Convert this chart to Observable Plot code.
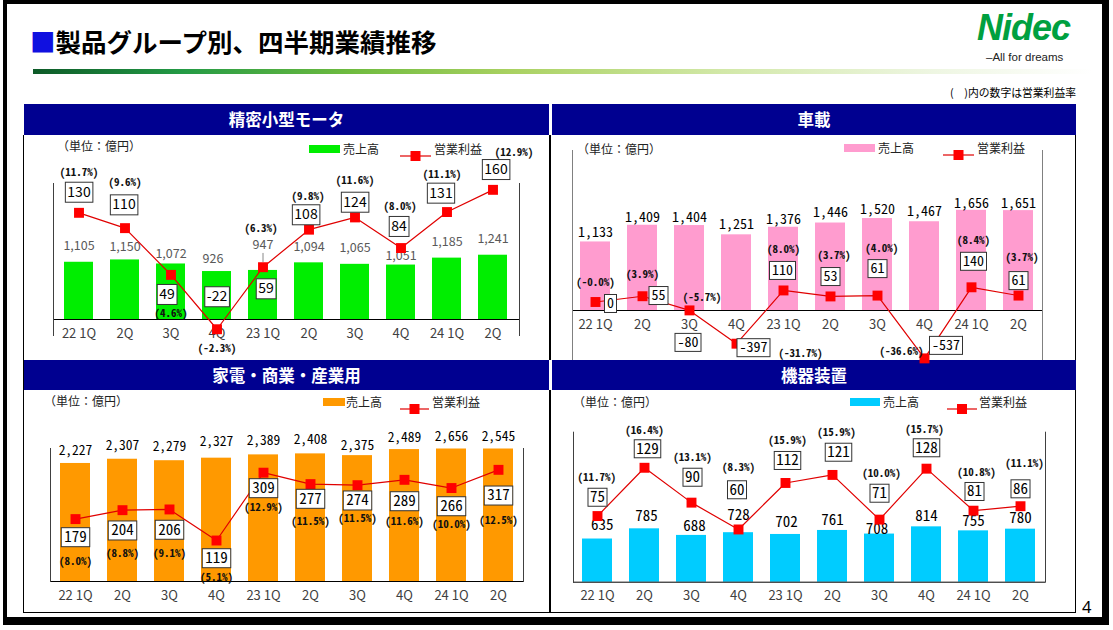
<!DOCTYPE html>
<html><head><meta charset="utf-8">
<script src="https://cdn.jsdelivr.net/npm/d3@7"></script>
<script src="https://cdn.jsdelivr.net/npm/@observablehq/plot@0.6"></script>
<style>
html,body{margin:0;padding:0;background:#fff;overflow:hidden;}
#page{position:relative;width:1113px;height:630px;overflow:hidden;font-family:"Noto Sans CJK JP","Noto Sans",sans-serif;color:#000;}
#page div{position:absolute;white-space:nowrap;}
</style></head>
<body><div id="page"></div>
<script>
// ---------- DATA ----------
const periods = ["22 1Q","22 2Q","22 3Q","22 4Q","23 1Q","23 2Q","23 3Q","23 4Q","24 1Q","24 2Q"];
const tickLabels = ["22 1Q","2Q","3Q","4Q","23 1Q","2Q","3Q","4Q","24 1Q","2Q"];
const segmentNames = ["精密小型モータ","車載","家電・商業・産業用","機器装置"];
const seriesNames = ["売上高","営業利益"];

const precisionSales  = [1105,1150,1072,926,947,1094,1065,1051,1185,1241];
const precisionProfit = [130,110,49,-22,59,108,124,84,131,160];
const precisionMargin = [11.7,9.6,4.6,-2.3,6.3,9.8,11.6,8.0,11.1,12.9];

const autoSales  = [1133,1409,1404,1251,1376,1446,1520,1467,1656,1651];
const autoProfit = [0,55,-80,-397,110,53,61,-537,140,61];
const autoMargin = [-0.0,3.9,-5.7,-31.7,8.0,3.7,4.0,-36.6,8.4,3.7];

const applianceSales  = [2227,2307,2279,2327,2389,2408,2375,2489,2656,2545];
const applianceProfit = [179,204,206,119,309,277,274,289,266,317];
const applianceMargin = [8.0,8.8,9.1,5.1,12.9,11.5,11.5,11.6,10.0,12.5];

const machinerySales  = [635,785,688,728,702,761,708,814,755,780];
const machineryProfit = [75,129,90,60,112,121,71,128,81,86];
const machineryMargin = [11.7,16.4,13.1,8.3,15.9,15.9,10.0,15.7,10.8,11.1];

// ---------- STYLE / LAYOUT ----------
const prop = '"Noto Sans CJK JP","Noto Sans",sans-serif';
const mono = '"Noto Sans Mono CJK JP","Noto Sans CJK JP",monospace';
const BOX_TEXT = "#010101";   // marker colour used to find the boxed labels
const fmtNum = d3.format(",");
const fmtPct = v => "(" + ((v < 0 || Object.is(v, -0)) ? "-" : "") + Math.abs(v).toFixed(1) + "%)";

const panels = [
  {name: segmentNames[0], sales: precisionSales, profit: precisionProfit, margin: precisionMargin, color: "#00ee00",
   header: [24,104,525,31], svg: [24,136,525,223], mL: 29, mR: 30,
   barZero: 183, barK: 0.0518, barMax: 2500, clamp: false,
   lineZero: 175.9, lineK: 0.766, lineDomain: [-40,200], frameTop: 47, frameBottom: 199, frameColor: "#404040",
   valFont: prop, valSize: 12.5, valColor: "#595959",
   valOff: [[0,-16],[0,-13],[0,-10],[-4,-13],[0,-25],[0,-16],[0,-16],[0,-9],[0,-16],[0,-16]],
   boxFont: prop, boxSize: 14, boxH: 20, boxPad: 2,
   boxOff: [[0,-20.6],[-1,-23.3],[-4,19.6],[0,-32.5],[3,21.6],[-3,-14.9],[0,-15.2],[-2,-21.6],[-6,-18.9],[3,-20.3]],
   pctOff: [[0,-40.6],[0,-45.9],[0,38.3],[0,19.5],[-2,-38.5],[-1,-33.5],[0,-36.5],[-1,-41.5],[-5,-37.5],[21,-37.5]],
   leader: {i: 4, top: -17, bottom: 8},
   legend: {y: 149, unit: [57,146], sw: [309,31], t1: 343, ln: [400,31], t2: 434}},
  {name: segmentNames[1], sales: autoSales, profit: autoProfit, margin: autoMargin, color: "#ff9ccf",
   header: [552,104,524,31], svg: [552,136,524,223], mL: 20, mR: 34,
   barZero: 174, barK: 0.0605, barMax: 2500, clamp: false,
   lineZero: 165.5, lineK: 0.105, lineDomain: [-600,200], frameTop: 14, frameBottom: 223, frameColor: "#808080",
   valFont: mono, valSize: 14, valColor: "#000",
   valOff: [[0,-9.8],[0,-7.5],[0,-7.8],[0,-10.3],[0,-7.7],[0,-10.8],[0,-8.7],[0,-10.5],[0,-6.5],[0,-6.8]],
   boxFont: mono, boxSize: 14, boxH: 18, boxPad: 2.5,
   boxOff: [[15,1.5],[16,-0.7],[-1.5,32],[17,4],[-1,-20],[0,-19.9],[0,-27],[21.5,-13],[2,-26],[0,-15]],
   pctOff: [[0,-19.8],[0,-21.7],[12.6,-13.2],[64,10],[0,-40.6],[3.6,-40.9],[4.3,-47],[-23,-6.5],[2,-46.8],[3.6,-38.4]],
   legend: {y: 148, unit: [577,149], sw: [844,31], t1: 878, ln: [943,31], t2: 977}},
  {name: segmentNames[2], sales: applianceSales, profit: applianceProfit, margin: applianceMargin, color: "#ff9900",
   header: [24,360,525,30], svg: [24,391,525,222], mL: 26, mR: 26,
   barZero: 190, barK: 0.053, barMax: 2500, clamp: true,
   lineZero: 191.5, lineK: 0.357, lineDomain: [0,400], frameTop: 57, frameBottom: 190, frameColor: "#404040",
   valFont: mono, valSize: 13.5, valColor: "#000",
   valOff: [[0,-13],[0,-13.7],[0,-14.2],[0,-16],[0,-14.4],[0,-14.4],[0,-10.1],[0,-11.8],[0,-12.5],[0,-12.5]],
   boxFont: mono, boxSize: 15, boxH: 19, boxPad: 3,
   boxOff: [[0,18.1],[0,20.3],[0,20.3],[0,17.7],[0,15.5],[0,14.7],[0,15.3],[0,21.4],[0,18.2],[0,25.7]],
   pctOff: [[0,42.1],[0,43.6],[0,43.7],[0,36.7],[0,34.5],[0,37.1],[0,33.6],[0,41.4],[0,36.5],[0,50.7]],
   legend: {y: 401.5, unit: [44,400.7], sw: [322.6,22], t1: 346, ln: [400,29], t2: 432}},
  {name: segmentNames[3], sales: machinerySales, profit: machineryProfit, margin: machineryMargin, color: "#00ccff",
   header: [552,360,524,30], svg: [552,391,524,222], mL: 21, mR: 31,
   barZero: 190.7, barK: 0.068, barMax: 2200, clamp: false,
   lineZero: 191.6, lineK: 0.894, lineDomain: [0,160], frameTop: 40.7, frameBottom: 190.7, frameColor: "#404040",
   valFont: mono, valSize: 15, valColor: "#000",
   valOff: [[4.7,-13.5],[2,-12.6],[3,-9],[0,-18],[1,-12],[0,-10],[-2.5,-5],[0,-11],[0,-10],[0,-11]],
   boxFont: mono, boxSize: 15, boxH: 18, boxPad: 2,
   boxOff: [[0,-18.8],[3,-19],[1,-25.4],[-1.5,-39.7],[2,-22.5],[6,-22.7],[0,-26.4],[0,-20.9],[1,-19.2],[0,-17.4]],
   pctOff: [[-0.7,-38.2],[0,-37.3],[1,-44.8],[0,-61.7],[2,-42.5],[4,-42.1],[2,-45.8],[-2,-38.9],[3,-38.5],[4,-42.4]],
   legend: {y: 401.5, unit: [573,401.5], sw: [850,30], t1: 883, ln: [947,30], t2: 979}}
];

// ---------- helpers ----------
const page = document.getElementById("page");
function box(style) { const e = document.createElement("div"); Object.assign(e.style, style); page.appendChild(e); return e; }
function label(text, x, y, size, extra = {}) {
  const h = size * 1.6;
  const e = box(Object.assign({left: x + "px", top: (y - h / 2) + "px", height: h + "px", lineHeight: h + "px", fontSize: size + "px"}, extra));
  e.textContent = text;
  return e;
}

// ---------- slide chrome ----------
box({left: "3px", top: "0px", width: "1106px", height: "625px", boxSizing: "border-box",
     borderStyle: "solid", borderColor: "#000", borderWidth: "4px 7px 8px 4px"});
const title = label("", 30, 41, 25.5, {fontWeight: "bold"});
title.innerHTML = '<span style="color:#1010e0">■</span>製品グループ別、四半期業績推移';
label("Nidec", 977, 28, 36, {fontFamily: '"Liberation Sans","DejaVu Sans",sans-serif', fontWeight: "bold", fontStyle: "italic", color: "#00a040", letterSpacing: "-1px"});
label("–All for dreams", 986, 57, 11.5, {color: "#222", fontFamily: '"Liberation Sans","DejaVu Sans",sans-serif'});
box({left: "33px", top: "69px", width: "1060px", height: "5px",
     background: "linear-gradient(to right,#0d5a28 0%,#239a45 14%,#6fbb3f 30%,#a9d161 45%,#d2e8a8 65%,#eef6e2 85%,#ffffff 100%)"});
label("(　)内の数字は営業利益率", 0, 93, 10.8, {left: "auto", right: "37px"});
label("4", 1082, 607, 16.5, {fontFamily: '"Noto Sans",sans-serif'});

// panel frames
box({left: "23px", top: "135px", width: "1px", height: "478px", background: "#000"});
box({left: "1075px", top: "135px", width: "1px", height: "478px", background: "#000"});
box({left: "549px", top: "135px", width: "2px", height: "225px", background: "#000"});
box({left: "549px", top: "390px", width: "2px", height: "223px", background: "#000"});
box({left: "23px", top: "612px", width: "1053px", height: "1px", background: "#000"});

// headers
for (const p of panels) {
  const [x, y, w, h] = p.header;
  const e = box({left: x + "px", top: y + "px", width: w + "px", height: h + "px", background: "#000090",
                 color: "#fff", fontWeight: "bold", fontSize: "16.5px", lineHeight: h + "px", textAlign: "center"});
  e.textContent = p.name;
}

// legends
for (const p of panels) {
  const lg = p.legend;
  label("（単位：億円）", lg.unit[0], lg.unit[1], 12, {color: "#222"});
  box({left: lg.sw[0] + "px", top: (lg.y - 4) + "px", width: lg.sw[1] + "px", height: "8px", background: p.color});
  label(seriesNames[0], lg.t1, lg.y, 12, {color: "#222"});
  const s = box({left: lg.ln[0] + "px", top: (lg.y - 6) + "px", width: lg.ln[1] + "px", height: "12px"});
  s.innerHTML = `<svg width="${lg.ln[1]}" height="12"><line x1="0" x2="${lg.ln[1]}" y1="6" y2="6" stroke="#e00000" stroke-width="1.2"/><rect x="${lg.ln[1]/2-5}" y="1" width="10" height="10" fill="#ff0000"/></svg>`;
  label(seriesNames[1], lg.t2, lg.y, 12, {color: "#222"});
}

// ---------- charts ----------
for (const p of panels) {
  const [L, T, W, H] = p.svg;
  const data = periods.map((period, i) => ({period, tick: tickLabels[i], sales: p.sales[i], profit: p.profit[i], margin: p.margin[i]}));
  const xScale = {type: "band", domain: periods, paddingInner: 0.36, paddingOuter: 0.18, axis: null};
  const svgStyle = {background: "transparent", overflow: "visible", position: "absolute", left: "0px", top: "0px", maxWidth: "none"};
  const wrap = box({left: L + "px", top: T + "px", width: W + "px", height: H + "px", overflow: "visible"});

  const barMarks = [
    Plot.barY(data, {x: "period", y: "sales", fill: p.color}),
    Plot.ruleY([0], {stroke: "#000", strokeWidth: 1}),
    Plot.text(data, {x: "period", text: "tick", frameAnchor: "bottom", dy: 18, fontFamily: prop, fontSize: 13, fill: "#404040"}),
    ...data.map((d, i) => Plot.text([d], {x: "period", y: "sales", text: v => fmtNum(v.sales),
        dx: p.valOff[i][0], dy: p.valOff[i][1], fontFamily: p.valFont, fontSize: p.valSize, fill: p.valColor}))
  ];
  if (p.leader) barMarks.push(Plot.ruleX([data[p.leader.i]], {x: "period", y1: "sales", y2: "sales",
      insetTop: p.leader.top, insetBottom: p.leader.bottom, stroke: "#888"}));

  const barPlot = Plot.plot({
    width: W, height: H, marginLeft: p.mL, marginRight: p.mR, marginTop: 0, marginBottom: H - p.barZero,
    x: xScale,
    y: {domain: [0, p.barMax], range: [p.barZero, p.barZero - p.barMax * p.barK], clamp: p.clamp, axis: null},
    style: svgStyle,
    marks: barMarks
  });

  const [d0, d1] = p.lineDomain;
  const linePlot = Plot.plot({
    width: W, height: H, marginLeft: p.mL, marginRight: p.mR, marginTop: p.frameTop, marginBottom: H - p.frameBottom,
    x: xScale,
    y: {domain: p.lineDomain, range: [p.lineZero - d0 * p.lineK, p.lineZero - d1 * p.lineK], axis: null},
    style: svgStyle,
    marks: [
      Plot.frame({anchor: "left", stroke: p.frameColor}),
      Plot.frame({anchor: "right", stroke: p.frameColor}),
      Plot.lineY(data, {x: "period", y: "profit", stroke: "#e00000", strokeWidth: 1.2}),
      Plot.dot(data, {x: "period", y: "profit", symbol: "square", r: 5.6, fill: "#ff0000", stroke: "none"}),
      ...data.map((d, i) => Plot.text([d], {x: "period", y: "profit", text: v => String(v.profit),
          dx: p.boxOff[i][0], dy: p.boxOff[i][1], fontFamily: p.boxFont, fontSize: p.boxSize, fill: BOX_TEXT})),
      ...data.map((d, i) => Plot.text([d], {x: "period", y: "profit", text: v => fmtPct(v.margin),
          dx: p.pctOff[i][0], dy: p.pctOff[i][1], fontFamily: mono, fontSize: 11, fontWeight: "bold", fill: "#111"}))
    ]
  });
  wrap.appendChild(barPlot);
  wrap.appendChild(linePlot);

  // white boxes with a dark outline behind the operating-profit labels
  linePlot.querySelectorAll("text").forEach(t => {
    const g = t.closest("g");
    const fill = (t.getAttribute("fill") || (g && g.getAttribute("fill")) || "").toLowerCase();
    if (fill !== BOX_TEXT) return;
    const b = t.getBBox();
    const r = document.createElementNS("http://www.w3.org/2000/svg", "rect");
    const tr = t.getAttribute("transform");
    const cy = tr ? 0 : (parseFloat(t.getAttribute("y")) || 0);
    r.setAttribute("x", b.x - p.boxPad);
    r.setAttribute("width", b.width + 2 * p.boxPad);
    r.setAttribute("y", cy - p.boxH / 2);
    r.setAttribute("height", p.boxH);
    r.setAttribute("fill", "#fff");
    r.setAttribute("stroke", "#333");
    r.setAttribute("stroke-width", "1");
    if (tr) r.setAttribute("transform", tr);
    t.parentNode.insertBefore(r, t);
  });
}
</script>
</body></html>
